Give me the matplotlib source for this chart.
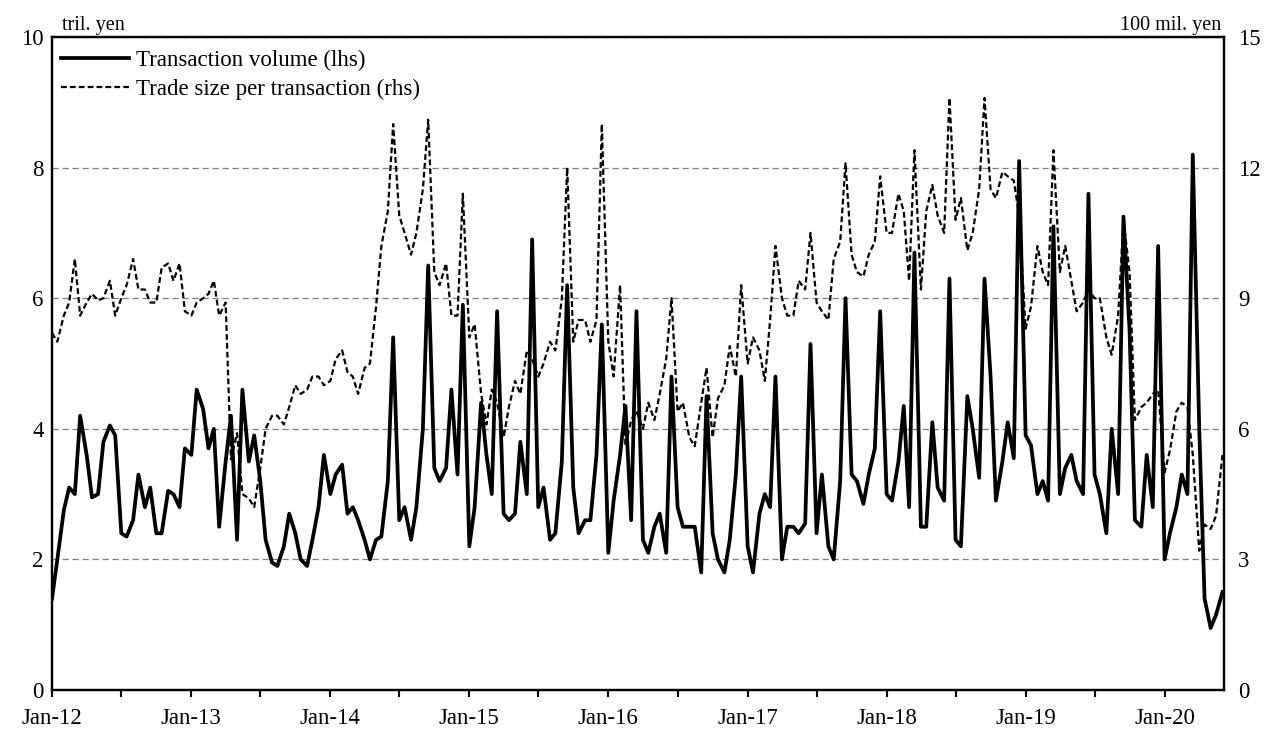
import matplotlib
matplotlib.use('Agg')
import matplotlib.pyplot as plt
import matplotlib.dates as mdates
import pandas as pd

# Semi-monthly observations starting 1 Jan 2012 (1st and 15th of each month)
start_date = '2012-01-01'

# Transaction volume, tril. yen (lhs)
volume = [
    1.4, 2.0, 2.75, 3.1, 3.0, 4.2, 3.6, 2.95, 3.0, 3.8, 4.05, 3.9,
    2.4, 2.35, 2.6, 3.3, 2.8, 3.1, 2.4, 2.4, 3.05, 3.0, 2.8, 3.7,
    3.6, 4.6, 4.3, 3.7, 4.0, 2.5, 3.5, 4.2, 2.3, 4.6, 3.5, 3.9,
    3.2, 2.3, 1.95, 1.9, 2.2, 2.7, 2.4, 2.0, 1.9, 2.3, 2.8, 3.6,
    3.0, 3.3, 3.45, 2.7, 2.8, 2.6, 2.3, 2.0, 2.3, 2.35, 3.2, 5.4,
    2.6, 2.8, 2.3, 2.8, 4.0, 6.5, 3.4, 3.2, 3.4, 4.6, 3.3, 5.9,
    2.2, 2.8, 4.4, 3.6, 3.0, 5.8, 2.7, 2.6, 2.7, 3.8, 3.0, 6.9,
    2.8, 3.1, 2.3, 2.4, 3.5, 6.2, 3.1, 2.4, 2.6, 2.6, 3.6, 5.6,
    2.1, 2.9, 3.6, 4.35, 2.6, 5.8, 2.3, 2.1, 2.5, 2.7, 2.1, 4.8,
    2.8, 2.5, 2.5, 2.5, 1.8, 4.5, 2.4, 2.0, 1.8, 2.3, 3.3, 4.8,
    2.2, 1.8, 2.7, 3.0, 2.8, 4.8, 2.0, 2.5, 2.5, 2.4, 2.55, 5.3,
    2.4, 3.3, 2.2, 2.0, 3.2, 6.0, 3.3, 3.2, 2.85, 3.3, 3.7, 5.8,
    3.0, 2.9, 3.5, 4.35, 2.8, 6.7, 2.5, 2.5, 4.1, 3.1, 2.9, 6.3,
    2.3, 2.2, 4.5, 4.0, 3.25, 6.3, 4.8, 2.9, 3.5, 4.1, 3.55, 8.1,
    3.9, 3.75, 3.0, 3.2, 2.9, 7.1, 3.0, 3.4, 3.6, 3.2, 3.0, 7.6,
    3.3, 3.0, 2.4, 4.0, 3.0, 7.25, 5.5, 2.6, 2.5, 3.6, 2.8, 6.8,
    2.0, 2.4, 2.8, 3.3, 3.0, 8.2, 4.0, 1.4, 0.95, 1.15, 1.5,
]

# Trade size per transaction, 100 mil. yen (rhs)
trade_size = [
    8.2, 8.0, 8.6, 8.9, 9.9, 8.6, 8.9, 9.1, 8.95, 9.0, 9.4, 8.6,
    9.0, 9.3, 9.9, 9.2, 9.2, 8.9, 8.9, 9.7, 9.8, 9.4, 9.8, 8.7,
    8.6, 8.9, 9.0, 9.1, 9.4, 8.6, 8.9, 5.3, 5.9, 4.5, 4.4, 4.2,
    5.1, 6.0, 6.3, 6.3, 6.1, 6.5, 7.0, 6.8, 6.9, 7.2, 7.2, 7.0,
    7.1, 7.6, 7.8, 7.3, 7.2, 6.8, 7.4, 7.5, 8.8, 10.2, 11.0, 13.0,
    10.9, 10.5, 10.0, 10.5, 11.5, 13.1, 9.6, 9.3, 9.8, 8.6, 8.6, 11.4,
    8.1, 8.4, 6.8, 6.1, 6.9, 6.6, 5.8, 6.5, 7.1, 6.8, 7.8, 7.6,
    7.2, 7.5, 8.0, 7.8, 9.0, 12.0, 8.0, 8.5, 8.5, 8.0, 8.5, 13.0,
    8.0, 7.2, 9.3, 5.6, 6.2, 6.4, 6.0, 6.6, 6.2, 6.8, 7.6, 9.0,
    6.4, 6.6, 5.8, 5.6, 6.6, 7.4, 5.8, 6.7, 7.0, 7.9, 7.2, 9.3,
    7.5, 8.1, 7.8, 7.1, 8.5, 10.2, 9.0, 8.6, 8.6, 9.4, 9.2, 10.5,
    8.9, 8.7, 8.5, 9.9, 10.3, 12.1, 10.0, 9.6, 9.5, 10.0, 10.3, 11.8,
    10.5, 10.5, 11.4, 11.0, 9.4, 12.4, 9.2, 11.0, 11.6, 10.9, 10.5, 13.6,
    10.8, 11.3, 10.1, 10.5, 11.5, 13.6, 11.5, 11.3, 11.9, 11.8, 11.7, 10.9,
    8.3, 8.8, 10.2, 9.6, 9.3, 12.4, 9.6, 10.2, 9.4, 8.7, 8.9, 9.2,
    9.0, 9.0, 8.1, 7.7, 8.6, 10.8, 9.6, 6.2, 6.5, 6.6, 6.8, 6.9,
    5.0, 5.5, 6.4, 6.6, 6.5, 5.4, 3.2, 3.8, 3.7, 4.0, 5.4,
]

series_labels = ['Transaction volume (lhs)', 'Trade size per transaction (rhs)']
left_unit = 'tril. yen'
right_unit = '100 mil. yen'

dates = pd.date_range(start_date, periods=len(volume), freq='SMS')

plt.rcParams['font.family'] = ['Liberation Serif', 'DejaVu Serif']
FS = 16.5

W, H = 1272, 736
fig = plt.figure(figsize=(W / 100, H / 100), dpi=100)
L, R, T, B = 52, 1224, 37, 690
ax = fig.add_axes([L / W, (H - B) / H, (R - L) / W, (B - T) / H])
ax2 = ax.twinx()

ax.set_zorder(1)
ax2.set_zorder(2)
ax2.patch.set_visible(False)

l1, = ax.plot(dates, volume, color='black', lw=2.7, solid_joinstyle='round',
              label=series_labels[0])
l2, = ax2.plot(dates, trade_size, color='black', lw=1.6,
               linestyle=(0, (2.6, 1.4)), label=series_labels[1])

ax.set_ylim(0, 10)
ax2.set_ylim(0, 15)
ax.set_yticks(range(0, 11, 2))
ax2.set_yticks(range(0, 16, 3))
ax.yaxis.grid(True, linestyle=(0, (5, 3)), color='#7f7f7f', lw=0.9)
ax.set_axisbelow(True)

ax.set_xlim(pd.Timestamp('2012-01-01'), pd.Timestamp('2020-06-05'))
ax.xaxis.set_major_locator(mdates.YearLocator())
ax.xaxis.set_minor_locator(mdates.MonthLocator(bymonth=7))
ax.xaxis.set_major_formatter(mdates.DateFormatter('%b-%y'))

for a in (ax, ax2):
    for s in a.spines.values():
        s.set_linewidth(1.6)
        s.set_color('black')
ax.tick_params(axis='x', which='both', direction='out', length=5, width=1.5,
               labelsize=FS, pad=8)
ax.tick_params(axis='y', length=0, labelsize=FS, pad=6)
ax2.tick_params(axis='y', length=0, labelsize=FS, pad=10)

fig.text(62 / W, (H - 35) / H, left_unit, fontsize=14.5, ha='left', va='bottom')
fig.text(1221 / W, (H - 35) / H, right_unit, fontsize=14.5, ha='right', va='bottom')

leg = ax2.legend(handles=[l1, l2], loc='upper left', frameon=False,
                 bbox_to_anchor=(0.0, 0.994),
                 fontsize=FS, handlelength=2.97, handletextpad=0.3,
                 borderaxespad=0.2, labelspacing=0.35, borderpad=0.2)

fig.savefig('out.png', dpi=100)
